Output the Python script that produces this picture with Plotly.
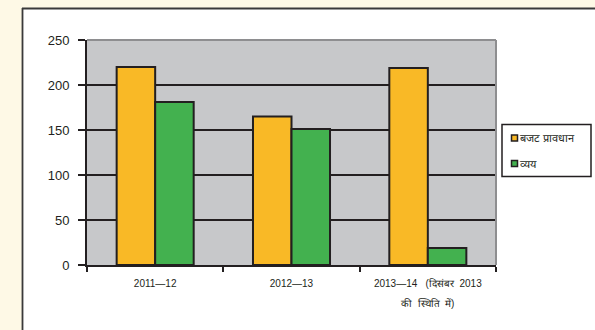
import plotly.graph_objects as go

NB = "\u00a0"
categories = ["2011—12", "2012—13", "2013—14"]
tick_labels = ["2011—12", "2012—13", "2013—14" + NB * 3 + "(दिसंबर" + NB * 2 + "2013"]
tick_label_line2 = ["", "", "की" + NB * 2 + "स्थिति" + NB * 2 + "में)"]
series_names = ["बजट प्रावधान", "व्यय"]
budget = [220, 165, 219]
expenditure = [181, 151, 19]
colors = ["#F9B926", "#43B14F"]
y_ticks = [0, 50, 100, 150, 200, 250]

W, H = 595, 330
L, R, T, B = 87, 496, 40, 265  # plot area pixel box


def px(x):
    return (x - L) / (R - L)


def py(y):
    return (B - y) / (B - T)


INK = "#231F20"
FONT = "Liberation Sans, Arial, sans-serif"

fig = go.Figure()
for name, vals, col in zip(series_names, [budget, expenditure], colors):
    fig.add_trace(go.Bar(
        x=categories, y=vals, name=name, showlegend=False,
        marker=dict(color=col, line=dict(color=INK, width=2)),
    ))

shapes = []
# cream surround (left band and top band)
shapes.append(dict(type="rect", xref="paper", yref="paper", x0=px(-5), x1=px(W + 5),
                   y0=py(8), y1=py(-5), fillcolor="#FEF9E6", line=dict(width=0), layer="above"))
shapes.append(dict(type="rect", xref="paper", yref="paper", x0=px(-5), x1=px(22),
                   y0=py(H + 5), y1=py(8), fillcolor="#FEF9E6", line=dict(width=0), layer="above"))
# frame border lines
shapes.append(dict(type="line", xref="paper", yref="paper", x0=px(22), x1=px(W + 5),
                   y0=py(8.5), y1=py(8.5), line=dict(color="#3A3A3A", width=1.8), layer="above"))
shapes.append(dict(type="line", xref="paper", yref="paper", x0=px(22.5), x1=px(22.5),
                   y0=py(8), y1=py(H + 5), line=dict(color="#3A3A3A", width=1.8), layer="above"))
# grey top and right border of plot area
shapes.append(dict(type="line", xref="paper", yref="paper", x0=0, x1=1, y0=1, y1=1,
                   line=dict(color="#8E8E90", width=2), layer="above"))
shapes.append(dict(type="line", xref="paper", yref="paper", x0=1, x1=1, y0=0, y1=1,
                   line=dict(color="#8E8E90", width=2), layer="above"))
# legend box
shapes.append(dict(type="rect", xref="paper", yref="paper", x0=px(502), x1=px(591),
                   y0=py(176.5), y1=py(124.5), fillcolor="white",
                   line=dict(color=INK, width=1.5), layer="above"))
annotations = []
for i, (name, col) in enumerate(zip(series_names, colors)):
    cy = 138 + i * 25.5
    shapes.append(dict(type="rect", xref="paper", yref="paper", x0=px(511.5), x1=px(517.5),
                       y0=py(cy + 3), y1=py(cy - 3), fillcolor=col,
                       line=dict(color=INK, width=1.5), layer="above"))
    annotations.append(dict(xref="paper", yref="paper", x=px(518), y=py(cy), text=name,
                            showarrow=False, xanchor="left", yanchor="middle",
                            font=dict(family=FONT, size=11, color=INK)))

# second line of the x tick labels
for cat, line2 in zip(categories, tick_label_line2):
    if line2:
        annotations.append(dict(xref="x", yref="paper", x=cat, y=py(303), text=line2,
                                showarrow=False, xanchor="center", yanchor="middle",
                                font=dict(family=FONT, size=10, color=INK)))

fig.update_layout(
    width=W, height=H,
    margin=dict(l=L, r=W - R, t=T, b=H - B),
    paper_bgcolor="white",
    plot_bgcolor="#C7C8CA",
    barmode="group", bargap=0.435, bargroupgap=0,
    shapes=shapes, annotations=annotations,
    showlegend=False,
    font=dict(family=FONT, color=INK),
)
fig.update_xaxes(
    tickvals=categories, ticktext=tick_labels,
    showline=True, linecolor=INK, linewidth=2,
    ticks="outside", tickson="boundaries", ticklen=5, tickwidth=2, tickcolor=INK,
    tickfont=dict(size=10, color=INK, family=FONT), ticklabelstandoff=8,
    showgrid=False,
)
fig.update_yaxes(
    range=[0, 250], tickvals=y_ticks,
    showline=True, linecolor=INK, linewidth=2,
    ticks="outside", ticklen=7, tickwidth=2, tickcolor=INK,
    tickfont=dict(size=13, color=INK, family=FONT), ticklabelstandoff=6,
    showgrid=True, gridcolor=INK, gridwidth=2, zeroline=False,
)

fig.write_html("out.html")
